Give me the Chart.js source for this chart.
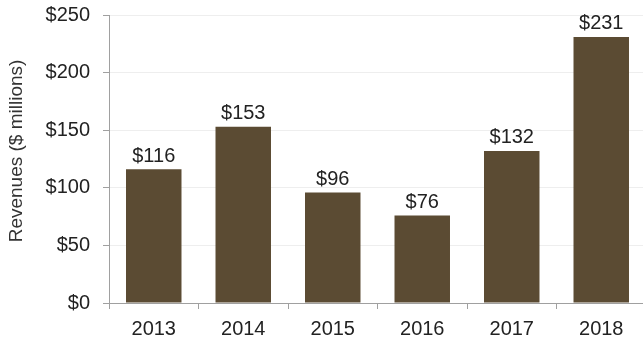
<!DOCTYPE html>
<html>
<head>
<meta charset="utf-8">
<script src="https://cdn.jsdelivr.net/npm/chart.js@4/dist/chart.umd.min.js"></script>
<style>
html,body{margin:0;padding:0;background:#fff;overflow:hidden;}
#wrap{width:650px;height:343px;position:relative;}
</style>
</head>
<body>
<div id="wrap"><canvas id="c" width="650" height="343"></canvas></div>
<script>
const categories = ["2013","2014","2015","2016","2017","2018"];
const revenues = [116, 153, 96, 76, 132, 231];
const yTicks = [0, 50, 100, 150, 200, 250];
const yTitle = 'Revenues ($ millions)';

const labelPlugin = {
  id: 'barLabels',
  afterDatasetsDraw(chart) {
    const ctx = chart.ctx;
    const meta = chart.getDatasetMeta(0);
    ctx.save();
    ctx.font = '20px "Liberation Sans", Arial, sans-serif';
    ctx.fillStyle = '#222';
    ctx.textAlign = 'center';
    ctx.textBaseline = 'bottom';
    meta.data.forEach((bar, i) => {
      ctx.fillText('$' + revenues[i], bar.x, bar.y - 3);
    });
    ctx.restore();
  },
  afterDraw(chart) {
    const ctx = chart.ctx;
    ctx.save();
    ctx.translate(17, 151);
    ctx.rotate(-Math.PI / 2);
    ctx.font = '19px "Liberation Sans", Arial, sans-serif';
    ctx.fillStyle = '#333';
    ctx.textAlign = 'center';
    ctx.textBaseline = 'middle';
    ctx.fillText(yTitle, 0, 0);
    ctx.restore();
  }
};

new Chart(document.getElementById('c'), {
  type: 'bar',
  data: {
    labels: categories,
    datasets: [{
      data: revenues,
      backgroundColor: '#5b4b33',
      borderWidth: 0,
      categoryPercentage: 1,
      barPercentage: 0.62
    }]
  },
  options: {
    responsive: false,
    animation: false,
    layout: { padding: { top: 15, right: 4, left: 0, bottom: 0 } },
    plugins: { legend: { display: false }, tooltip: { enabled: false } },
    scales: {
      x: {
        grid: { display: true, drawOnChartArea: false, drawTicks: true, tickLength: 6, tickColor: '#a0a0a0', offset: true },
        border: { color: '#a0a0a0', width: 1 },
        ticks: { color: '#222', font: { family: '"Liberation Sans", Arial, sans-serif', size: 20 }, padding: 8 },
        afterFit(s) { s.height = 40; s.paddingLeft = 0; s.paddingRight = 0; }
      },
      y: {
        min: 0, max: 250,
        afterBuildTicks(s) { s.ticks = yTicks.map(v => ({ value: v })); },
        grid: { color: '#eeeeee', tickColor: '#a0a0a0', tickLength: 6 },
        border: { color: '#a0a0a0', width: 1 },
        ticks: { color: '#222', font: { family: '"Liberation Sans", Arial, sans-serif', size: 20 }, padding: 13, callback: v => '$' + v },
        afterFit(s) { s.width = 109; s.paddingTop = 0; s.paddingBottom = 0; }
      }
    }
  },
  plugins: [labelPlugin]
});
</script>
</body>
</html>
